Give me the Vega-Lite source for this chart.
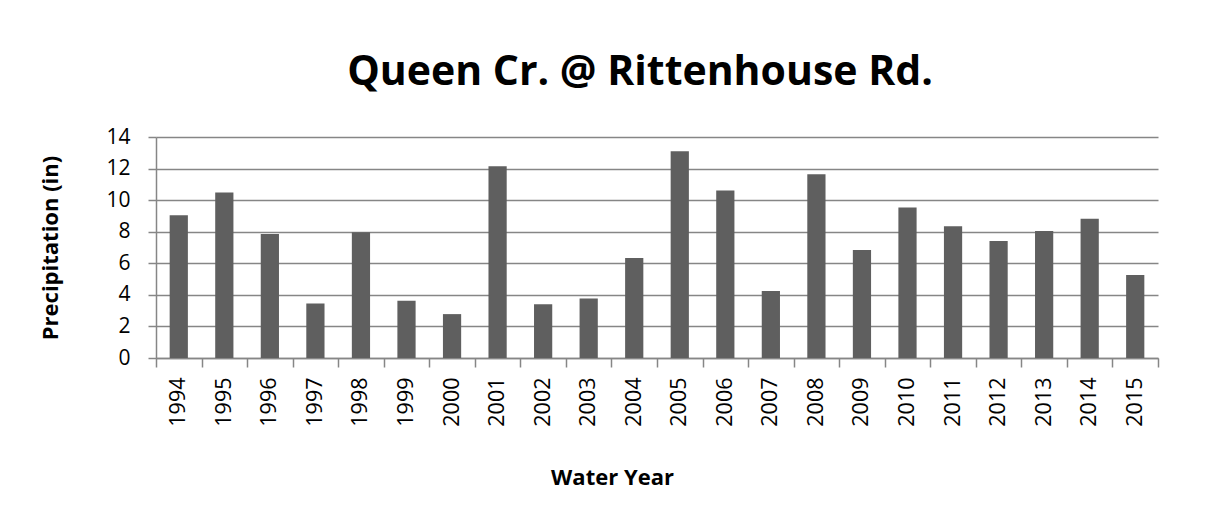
{
  "$schema": "https://vega.github.io/schema/vega-lite/v6.json",
  "autosize": "none",
  "width": 1002,
  "height": 221,
  "padding": {"left": 156, "top": 137, "right": 49, "bottom": 152},
  "background": "white",
  "title": {
    "text": "Queen Cr. @ Rittenhouse Rd.",
    "font": "Open Sans",
    "fontSize": 41,
    "fontWeight": "bold",
    "color": "black",
    "anchor": "middle",
    "dx": -17,
    "baseline": "alphabetic",
    "offset": 0
  },
  "data": {
    "values": [
      {"year": "1994", "precip": 9.05},
      {"year": "1995", "precip": 10.49},
      {"year": "1996", "precip": 7.85},
      {"year": "1997", "precip": 3.45},
      {"year": "1998", "precip": 7.96},
      {"year": "1999", "precip": 3.62},
      {"year": "2000", "precip": 2.78},
      {"year": "2001", "precip": 12.15},
      {"year": "2002", "precip": 3.41},
      {"year": "2003", "precip": 3.77},
      {"year": "2004", "precip": 6.34},
      {"year": "2005", "precip": 13.1},
      {"year": "2006", "precip": 10.61},
      {"year": "2007", "precip": 4.25},
      {"year": "2008", "precip": 11.64},
      {"year": "2009", "precip": 6.84},
      {"year": "2010", "precip": 9.54},
      {"year": "2011", "precip": 8.34},
      {"year": "2012", "precip": 7.41},
      {"year": "2013", "precip": 8.04},
      {"year": "2014", "precip": 8.82},
      {"year": "2015", "precip": 5.26}
    ]
  },
  "mark": {"type": "bar", "color": "#5f5f5f", "width": {"band": 0.4}},
  "encoding": {
    "x": {
      "field": "year",
      "type": "ordinal",
      "scale": {"paddingInner": 0, "paddingOuter": 0},
      "axis": {
        "title": "Water Year",
        "titleFont": "Open Sans",
        "titleFontSize": 22,
        "titleFontWeight": "bold",
        "titleColor": "black",
        "titleX": 456,
        "titleY": 126,
        "titleBaseline": "alphabetic",
        "titleAnchor": "middle",
        "labelFont": "Open Sans",
        "labelFontSize": 21.5,
        "labelColor": "black",
        "labelAngle": -90,
        "labelAlign": "right",
        "labelBaseline": "middle",
        "labelPadding": 10,
        "tickBand": "extent",
        "tickSize": 9,
        "tickColor": "#868686",
        "tickWidth": 1.5,
        "domainColor": "#868686",
        "domainWidth": 1.5,
        "grid": false
      }
    },
    "y": {
      "field": "precip",
      "type": "quantitative",
      "scale": {"domain": [0, 14], "nice": false},
      "axis": {
        "title": "Precipitation (in)",
        "titleFont": "Open Sans",
        "titleFontSize": 22,
        "titleFontWeight": "bold",
        "titleColor": "black",
        "titleX": -94,
        "titlePadding": 10,
        "values": [0, 2, 4, 6, 8, 10, 12, 14],
        "labelFont": "Open Sans",
        "labelFontSize": 21,
        "labelColor": "black",
        "labelPadding": 18,
        "tickSize": 8,
        "tickColor": "#868686",
        "tickWidth": 1.5,
        "domainColor": "#868686",
        "domainWidth": 1.5,
        "grid": true,
        "gridColor": "#868686",
        "gridWidth": 1.5
      }
    }
  },
  "config": {
    "view": {"stroke": null}
  }
}
